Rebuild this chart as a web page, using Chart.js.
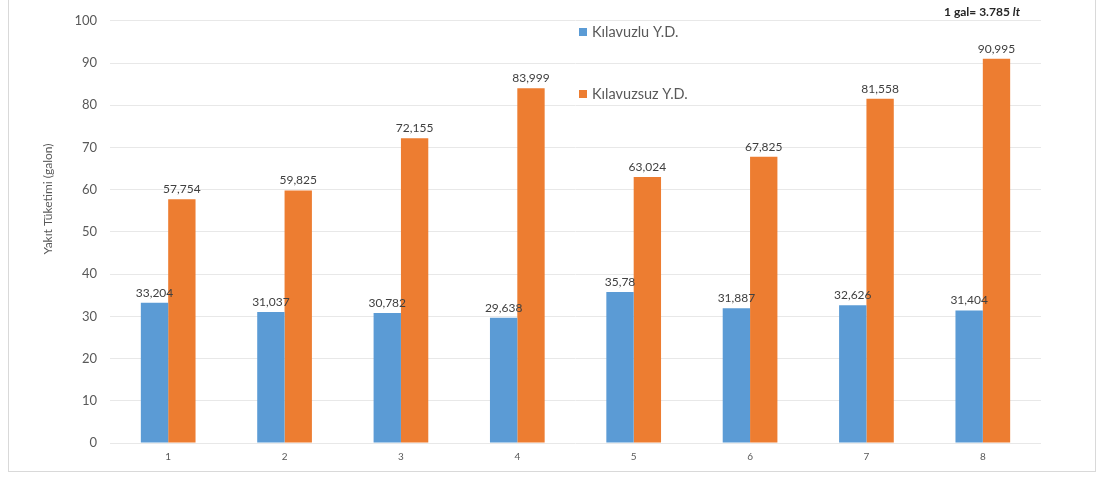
<!DOCTYPE html>
<html>
<head>
<meta charset="utf-8">
<script src="https://cdn.jsdelivr.net/npm/chart.js@4.4.1/dist/chart.umd.min.js"></script>
<style>
  html, body { margin: 0; padding: 0; background: #fff; }
  #wrap { position: absolute; left: 0; top: 0; width: 1097px; height: 477px; }
  #frame { position: absolute; left: 8px; top: -2px; width: 1086px; height: 472px; border: 1px solid #d9d9d9; }
</style>
</head>
<body>
<div id="frame"></div>
<div id="wrap"><canvas id="chart" width="1097" height="477"></canvas></div>
<script>
// datos
const categorias = ["1", "2", "3", "4", "5", "6", "7", "8"];
const kilavuzlu = [33.204, 31.037, 30.782, 29.638, 35.78, 31.887, 32.626, 31.404];
const kilavuzsuz = [57.754, 59.825, 72.155, 83.999, 63.024, 67.825, 81.558, 90.995];
const etiquetasKilavuzlu = ["33,204", "31,037", "30,782", "29,638", "35,78", "31,887", "32,626", "31,404"];
const etiquetasKilavuzsuz = ["57,754", "59,825", "72,155", "83,999", "63,024", "67,825", "81,558", "90,995"];
const ticksY = [0, 10, 20, 30, 40, 50, 60, 70, 80, 90, 100];
const tituloY = "Yakıt Tüketimi (galon)";

const FONT = "Lato, 'Open Sans', sans-serif";

// plugin: etiquetas encima de las barras, leyenda, titulo del eje y nota
const extras = {
  id: "extras",
  afterDatasetsDraw(chart) {
    const ctx = chart.ctx;
    const etiquetas = [etiquetasKilavuzlu, etiquetasKilavuzsuz];
    ctx.save();
    ctx.font = "12px " + FONT;
    ctx.fillStyle = "#404040";
    ctx.textAlign = "center";
    ctx.textBaseline = "bottom";
    chart.data.datasets.forEach((ds, i) => {
      chart.getDatasetMeta(i).data.forEach((bar, j) => {
        ctx.fillText(etiquetas[i][j], bar.x, bar.y - 4);
      });
    });

    // leyenda dentro del area
    const leyY = [32, 94];
    ctx.font = "14.5px " + FONT;
    ctx.textAlign = "left";
    ctx.textBaseline = "middle";
    chart.data.datasets.forEach((ds, i) => {
      ctx.fillStyle = ds.backgroundColor;
      ctx.fillRect(579, leyY[i] - 4, 8, 8);
      ctx.fillStyle = "#595959";
      ctx.fillText(ds.label, 592, leyY[i]);
    });

    // titulo del eje Y (desplazado hacia arriba como en el original)
    ctx.save();
    ctx.translate(48, 199);
    ctx.rotate(-Math.PI / 2);
    ctx.textAlign = "center";
    ctx.font = "12px " + FONT;
    ctx.fillStyle = "#595959";
    ctx.fillText(tituloY, 0, 0);
    ctx.restore();

    // nota de conversion
    ctx.fillStyle = "#262626";
    ctx.font = "bold 12px " + FONT;
    const txt = "1 gal= 3.785 ";
    ctx.fillText(txt, 944, 12);
    const w = ctx.measureText(txt).width;
    ctx.font = "italic bold 12px " + FONT;
    ctx.fillText("lt", 944 + w, 12);
    ctx.restore();
  }
};

new Chart(document.getElementById("chart"), {
  type: "bar",
  data: {
    labels: categorias,
    datasets: [
      {
        label: "Kılavuzlu Y.D.",
        data: kilavuzlu,
        backgroundColor: "#5b9bd5",
        borderWidth: 0,
        categoryPercentage: 0.47,
        barPercentage: 1.0,
      },
      {
        label: "Kılavuzsuz Y.D.",
        data: kilavuzsuz,
        backgroundColor: "#ed7d31",
        borderWidth: 0,
        categoryPercentage: 0.47,
        barPercentage: 1.0,
      },
    ],
  },
  options: {
    responsive: false,
    animation: false,
    layout: { padding: { left: 38, right: 56, top: 19, bottom: 0 } },
    plugins: {
      legend: { display: false },
      tooltip: { enabled: false },
    },
    scales: {
      x: {
        grid: { display: false, drawTicks: false },
        border: { display: false },
        ticks: { color: "#595959", font: { family: FONT, size: 10 }, padding: 8 },
        afterFit(scale) { scale.height = 34; },
      },
      y: {
        min: 0,
        max: 100,
        afterBuildTicks(scale) { scale.ticks = ticksY.map((v) => ({ value: v })); },
        grid: { color: "#e8e8e8", drawTicks: false },
        border: { display: false },
        ticks: { color: "#595959", font: { family: FONT, size: 13 }, padding: 13 },
        afterFit(scale) { scale.width = 72; },
      },
    },
  },
  plugins: [extras],
});
</script>
</body>
</html>
